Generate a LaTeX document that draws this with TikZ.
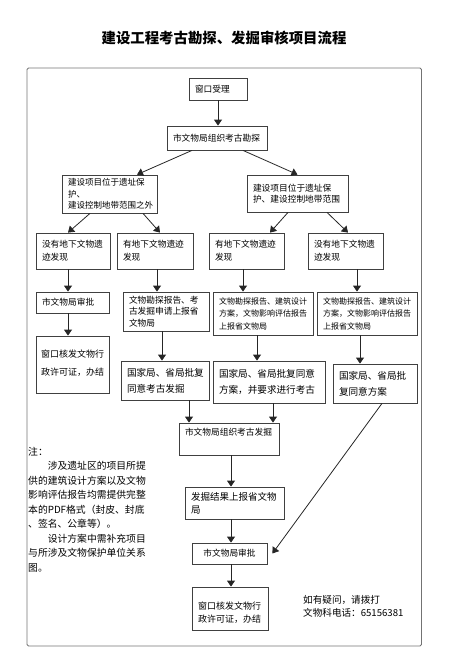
\documentclass[tikz,border=0pt]{standalone}
\usepackage{fontspec}
\setmainfont{Noto Sans CJK SC}
\usetikzlibrary{arrows.meta}

\begin{document}
\begin{tikzpicture}[x=1pt,y=-1pt,>={Triangle[width=8pt,length=6pt]}]
    \tikzstyle{box}=[draw=black!75,line width=0.8pt,rectangle,inner xsep=6pt,inner ysep=2pt,align=left,font=\fontsize{8.7}{11.5}\selectfont]
    \tikzstyle{flow}=[->,draw=black!85,line width=0.8pt]
    \tikzstyle{annot}=[anchor=north west,align=left,inner sep=0pt]

    \useasboundingbox (0,0) rectangle (448,664);

    % Title and frame
    \node[font=\bfseries\fontsize{14.4}{16}\selectfont] (title) at (224,38) {建设工程考古勘探、发掘审核项目流程};
    \draw[black!55,line width=0.8pt,rounded corners=1.5pt] (27,68) rectangle (421.5,646);

    % Draw the first steps
    \node[box,text width=46pt,minimum height=22pt] (win) at (218,89) {窗口受理};
    \node[box,text width=88pt,minimum height=24pt] (survey) at (217,138) {市文物局组织考古勘探};
    \node[box,text width=83pt,minimum height=38pt,font=\fontsize{8.5}{11.5}\selectfont] (outside) at (109.5,194) {建设项目位于遗址保\\护、\\建设控制地带范围之外};
    \node[box,text width=89pt,minimum height=37pt] (inside) at (297.5,193.5) {建设项目位于遗址保\\护、建设控制地带范围};

    % Draw the finds
    \node[box,text width=62pt,minimum height=36pt,font=\fontsize{8.7}{13}\selectfont] (noneA) at (73,251) {没有地下文物遗\\迹发现};
    \node[box,text width=64pt,minimum height=36pt,font=\fontsize{8.7}{13}\selectfont] (findA) at (155,251) {有地下文物遗迹\\发现};
    \node[box,text width=63pt,minimum height=36pt,font=\fontsize{8.7}{13}\selectfont] (findB) at (246.5,251) {有地下文物遗迹\\发现};
    \node[box,text width=63pt,minimum height=36pt,font=\fontsize{8.7}{13}\selectfont] (noneB) at (345.5,251) {没有地下文物遗\\迹发现};

    % Draw the reports
    \node[box,text width=61pt,minimum height=21pt] (approveA) at (72.5,302.5) {市文物局审批};
    \node[box,text width=74pt,minimum height=39pt,font=\fontsize{8.7}{11.7}\selectfont] (reportA) at (166,311.5) {文物勘探报告、考\\古发掘申请上报省\\文物局};
    \node[box,text width=88pt,minimum height=43pt,font=\fontsize{8}{12.5}\selectfont] (reportB) at (263,313.5) {文物勘探报告、建筑设计\\方案，文物影响评估报告\\上报省文物局};
    \node[box,text width=88pt,minimum height=43pt,font=\fontsize{8}{12.5}\selectfont] (reportC) at (367,313.5) {文物勘探报告、建筑设计\\方案，文物影响评估报告\\上报省文物局};

    % Draw the replies
    \node[box,text width=63pt,inner xsep=5pt,minimum height=57pt,text depth=22pt,font=\fontsize{9}{18}\selectfont] (permitA) at (72.5,364.5) {窗口核发文物行\\政许可证，办结};
    \node[box,text width=76pt,minimum height=39pt,font=\fontsize{9.6}{16}\selectfont] (agreeA) at (165,380.5) {国家局、省局批复\\同意考古发掘};
    \node[box,text width=100pt,minimum height=42pt,font=\fontsize{9.6}{16}\selectfont] (agreeB) at (269,382) {国家局、省局批复同意\\方案，并要求进行考古};
    \node[box,text width=72pt,minimum height=39pt,font=\fontsize{9.6}{16}\selectfont] (agreeC) at (375,383.5) {国家局、省局批\\复同意方案};

    % Draw the last steps
    \node[box,text width=88pt,minimum height=32pt,text depth=14pt] (dig) at (229,439) {市文物局组织考古发掘};
    \node[box,text width=87pt,minimum height=32pt,font=\fontsize{9.5}{13}\selectfont] (result) at (234.5,503) {发掘结果上报省文物\\局};
    \node[box,text width=63pt,minimum height=21pt,align=center] (approveB) at (229.5,553.5) {市文物局审批};
    \node[box,text width=64pt,minimum height=43pt,text depth=6pt,font=\fontsize{9}{13}\selectfont] (permitB) at (230,608.5) {窗口核发文物行\\政许可证，办结};

    % Connect the first steps
    \draw[flow] (win.south) -- (win.south |- survey.north);
    \draw[flow] ([xshift=-25pt]survey.south) -- ([xshift=27.5pt]outside.north);
    \draw[flow] ([xshift=26pt]survey.south) -- (inside.north);
    \draw[flow] ([xshift=-19.5pt]outside.south) -- ([xshift=-5pt]noneA.north);
    \draw[flow] ([xshift=33.5pt]outside.south) -- ([xshift=5pt]findA.north);
    \draw[flow] ([xshift=-9.5pt]inside.south) -- ([xshift=23.5pt]findB.north);
    \draw[flow] ([xshift=29.5pt]inside.south) -- ([xshift=2.5pt]noneB.north);

    % Connect every box with the box below it
    \foreach \src/\dst/\dx in {noneA/approveA/-5,findA/reportA/2,findB/reportB/-3.5,noneB/reportC/11.5,
        approveA/permitA/-4.5,reportA/agreeA/-4,reportB/agreeB/-6,reportC/agreeC/-7,
        agreeA/dig/24,agreeB/dig/4,dig/result/2,result/approveB/-3.5,approveB/permitB/1.5}
    {
        \path ([xshift=\dx pt]\src.south) coordinate (s);
        \draw[flow] (s) -- (s |- \dst.north);
    }
    \draw[flow] ([xshift=7pt]agreeC.south) -- ([xshift=5pt]approveB.east);

    % Annotate the notes
    \node[annot,font=\fontsize{9.8}{14.5}\selectfont] (note) at (28,447) {注：\\\hspace*{2em}涉及遗址区的项目所提\\供的建筑设计方案以及文物\\影响评估报告均需提供完整\\本的PDF格式（封皮、封底\\、签名、公章等）。\\\hspace*{2em}设计方案中需补充项目\\与所涉及文物保护单位关系\\图。};
    \node[annot,font=\fontsize{9.6}{13}\selectfont] (contact) at (303,595) {如有疑问，请拨打\\文物科电话：65156381};
\end{tikzpicture}
\end{document}
